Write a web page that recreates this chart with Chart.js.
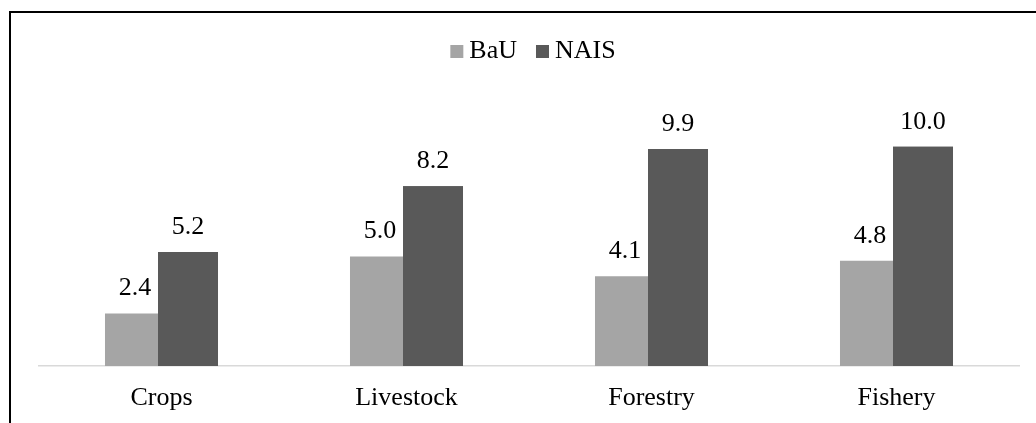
<!DOCTYPE html>
<html>
<head>
<meta charset="utf-8">
<script src="https://cdn.jsdelivr.net/npm/chart.js@4"></script>
<style>
  html, body { margin: 0; padding: 0; background: #fff; overflow: hidden; }
  #wrap { position: relative; width: 1036px; height: 423px; }
  #frame {
    position: absolute; left: 9px; top: 11px; width: 1040px; height: 420px;
    border-top: 2px solid #000; border-left: 2px solid #000; pointer-events: none;
  }
</style>
</head>
<body>
<div id="wrap">
  <canvas id="chart" width="1036" height="423"></canvas>
  <div id="frame"></div>
</div>
<script>
const categories = ["Crops", "Livestock", "Forestry", "Fishery"];
const seriesNames = ["BaU", "NAIS"];
const bauValues = [2.4, 5.0, 4.1, 4.8];
const naisValues = [5.2, 8.2, 9.9, 10.0];

const FONT_FAMILY = "'Liberation Serif', 'Times New Roman', serif";
const FONT = "26px " + FONT_FAMILY;

// bar values written above each bar; NAIS bars overlap BaU slightly so they are redrawn on top first
const valueLabels = {
  id: "valueLabels",
  afterDatasetsDraw(chart) {
    const ctx = chart.ctx;
    chart.getDatasetMeta(1).data.forEach(bar => bar.draw(ctx));
    ctx.save();
    ctx.font = FONT;
    ctx.fillStyle = "#000";
    ctx.textAlign = "center";
    ctx.textBaseline = "alphabetic";
    chart.data.datasets.forEach((ds, i) => {
      chart.getDatasetMeta(i).data.forEach((bar, j) => {
        ctx.fillText(ds.data[j].toFixed(1), bar.x, bar.y - 18);
      });
    });
    ctx.restore();
  }
};

// small square legend at the top
const topLegend = {
  id: "topLegend",
  afterDraw(chart) {
    const ctx = chart.ctx;
    const box = 13, gap = 6, spacing = 19, centerX = 533, boxTop = 45, baseline = 58;
    ctx.save();
    ctx.font = FONT;
    const items = chart.data.datasets.map(ds => ({
      text: ds.label, color: ds.backgroundColor, w: ctx.measureText(ds.label).width
    }));
    let total = 0;
    items.forEach((it, i) => { total += box + gap + it.w + (i ? spacing : 0); });
    let x = centerX - total / 2;
    items.forEach(it => {
      ctx.fillStyle = it.color;
      ctx.fillRect(x, boxTop, box, box);
      ctx.fillStyle = "#000";
      ctx.textAlign = "left";
      ctx.textBaseline = "alphabetic";
      ctx.fillText(it.text, x + box + gap, baseline);
      x += box + gap + it.w + spacing;
    });
    ctx.restore();
  }
};

new Chart(document.getElementById("chart").getContext("2d"), {
  type: "bar",
  data: {
    labels: categories,
    datasets: [
      { label: seriesNames[0], data: bauValues, backgroundColor: "#a5a5a5" },
      { label: seriesNames[1], data: naisValues, backgroundColor: "#595959" }
    ]
  },
  options: {
    responsive: false,
    animation: false,
    categoryPercentage: 0.4327,
    barPercentage: 1.132,
    layout: { padding: { left: 39, right: 17, top: 103, bottom: 0 } },
    plugins: {
      legend: { display: false },
      tooltip: { enabled: false }
    },
    scales: {
      x: {
        grid: { display: false, drawTicks: false },
        border: { display: true, color: "#d9d9d9", width: 1.5 },
        ticks: { color: "#000", padding: 17, font: { family: FONT_FAMILY, size: 26 } },
        afterFit(scale) { scale.height = 57; }
      },
      y: {
        display: false,
        min: 0,
        max: 12
      }
    }
  },
  plugins: [valueLabels, topLegend]
});
</script>
</body>
</html>
